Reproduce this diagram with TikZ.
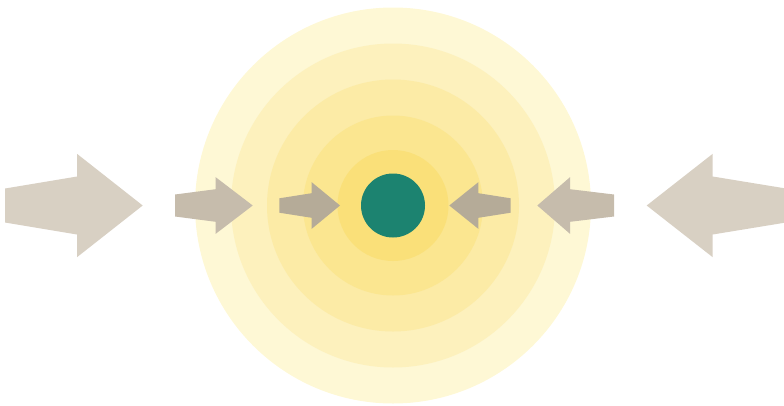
\documentclass[tikz,border=0pt]{standalone}
\begin{document}
\begin{tikzpicture}[x=1pt,y=-1pt]
\definecolor{r1}{HTML}{FEF8D5}
\definecolor{r2}{HTML}{FDF1BD}
\definecolor{r3}{HTML}{FCEBA6}
\definecolor{r4}{HTML}{FBE690}
\definecolor{r5}{HTML}{FAE079}
\definecolor{core}{HTML}{1C8370}
\definecolor{a1}{HTML}{D8D0C3}
\definecolor{a2}{HTML}{C6BCAC}
\definecolor{a3}{HTML}{B5AB98}
\useasboundingbox (0,0) rectangle (784,405);
\coordinate (c) at (393,205.5);
\fill[r1] (c) circle[radius=198];
\fill[r2] (c) circle[radius=162];
\fill[r3] (c) circle[radius=126];
\fill[r4] (c) circle[radius=90];
\fill[r5] (c) circle[radius=55.5];
\node[circle,fill=core,minimum size=64pt,inner sep=0pt] (core) at (c) {};
% #1 tip x, #2 base x, #3 tail x, #4 tail half, #5 base half, #6 head half, #7 colour
\newcommand{\myarrow}[7]{%
  \fill[#7] (#3,205.5-#4) -- (#2,205.5-#5) -- (#2,205.5-#6) -- (#1,205.5)
    -- (#2,205.5+#6) -- (#2,205.5+#5) -- (#3,205.5+#4) -- cycle;}
\myarrow{142.7}{77}{5}{17}{29}{51.7}{a1}
\myarrow{252.7}{215.7}{175}{11}{16.3}{28.3}{a2}
\myarrow{340}{311.7}{279.3}{7.2}{12.3}{23.3}{a3}
\myarrow{449.3}{478.3}{510.7}{7.2}{12.3}{23.3}{a3}
\myarrow{537.3}{570}{614}{11}{16.3}{28.3}{a2}
\myarrow{646.7}{712.7}{786}{17}{29}{51.7}{a1}
\end{tikzpicture}
\end{document}
